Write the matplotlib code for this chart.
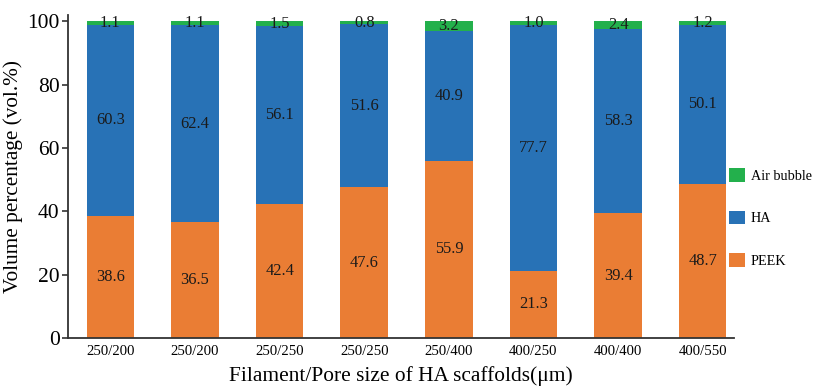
import matplotlib
matplotlib.use("Agg")
import matplotlib.pyplot as plt
import numpy as np

categories = ["250/200", "250/200", "250/250", "250/250", "250/400", "400/250", "400/400", "400/550"]
peek = [38.6, 36.5, 42.4, 47.6, 55.9, 21.3, 39.4, 48.7]
ha = [60.3, 62.4, 56.1, 51.6, 40.9, 77.7, 58.3, 50.1]
air = [1.1, 1.1, 1.5, 0.8, 3.2, 1.0, 2.4, 1.2]

plt.rcParams['font.family'] = ['Liberation Serif', 'DejaVu Serif']

c_peek = "#ea7d34"
c_ha = "#2872b6"
c_air = "#23b04c"

fig = plt.figure(figsize=(8.13, 3.88), dpi=100)
ax = fig.add_axes([68/813, 1-338/388, (734-68)/813, (338-15)/388])

x = np.arange(len(categories))
w = 0.56
peek_a = np.array(peek); ha_a = np.array(ha); air_a = np.array(air)
b1 = ax.bar(x, peek_a, w, color=c_peek, label="PEEK")
b2 = ax.bar(x, ha_a, w, bottom=peek_a, color=c_ha, label="HA")
b3 = ax.bar(x, air_a, w, bottom=peek_a + ha_a, color=c_air, label="Air bubble")

fs = 11.8
for i in range(len(x)):
    ax.text(x[i], peek_a[i]/2, f"{peek_a[i]:.1f}", ha="center", va="center", fontsize=fs, color="#1a1a1a")
    ax.text(x[i], peek_a[i] + ha_a[i]/2, f"{ha_a[i]:.1f}", ha="center", va="center", fontsize=fs, color="#1a1a1a")
    ax.text(x[i], peek_a[i] + ha_a[i] + air_a[i]/2, f"{air_a[i]:.1f}", ha="center", va="center", fontsize=fs, color="#1a1a1a")

ax.set_xlim(-0.5, 7.37)
ax.set_ylim(0, 102)
ax.set_yticks([0, 20, 40, 60, 80, 100])
ax.set_xticks(x)
ax.set_xticklabels(categories, fontsize=10.6)
ax.tick_params(axis='x', length=0, pad=5)
ax.tick_params(axis='y', labelsize=15.5, length=4, width=1.2, color="#333", pad=2)
for s in ["top", "right"]:
    ax.spines[s].set_visible(False)
for s in ["left", "bottom"]:
    ax.spines[s].set_linewidth(1.3)
    ax.spines[s].set_color("#333")

ax.set_ylabel("Volume percentage (vol.%)", fontsize=15.3, labelpad=3)
ax.set_xlabel("Filament/Pore size of HA scaffolds(\u03bcm)", fontsize=15.4, labelpad=6)

handles = [b3, b2, b1]
labels = ["Air bubble", "HA", "PEEK"]
fig.legend(handles, labels, loc="center left", bbox_to_anchor=(729/813, 1-218/388),
           frameon=False, fontsize=10.2, labelspacing=1.95, handlelength=1.1, handleheight=1.1,
           handletextpad=0.45, borderpad=0, borderaxespad=0)

fig.savefig("out.png", dpi=100)
